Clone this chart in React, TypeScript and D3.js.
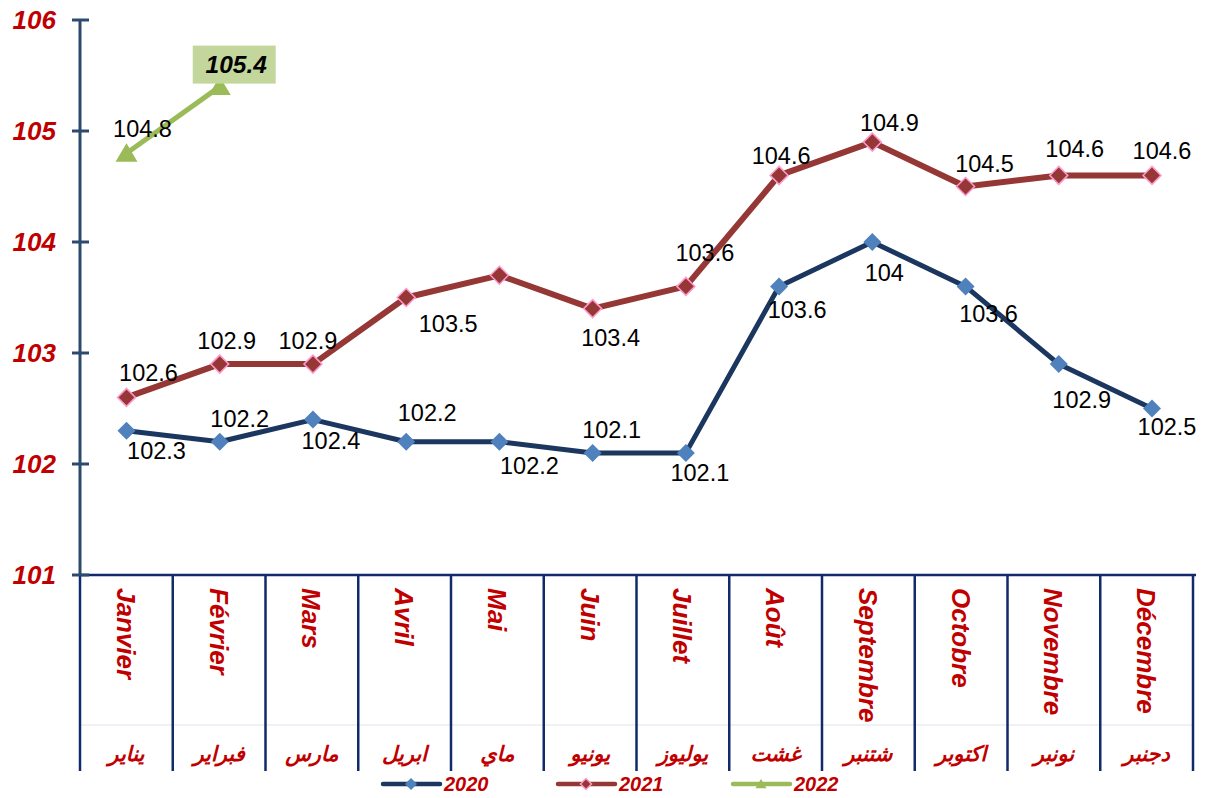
import React from "react";
import * as d3 from "d3";

const monthsFr = ["Janvier", "Février", "Mars", "Avril", "Mai", "Juin", "Juillet", "Août", "Septembre", "Octobre", "Novembre", "Décembre"];
const monthsAr = ["يناير", "فبراير", "مارس", "ابريل", "ماي", "يونيو", "يوليوز", "غشت", "شتنبر", "اكتوبر", "نونبر", "دجنبر"];
const values2020 = [102.3, 102.2, 102.4, 102.2, 102.2, 102.1, 102.1, 103.6, 104, 103.6, 102.9, 102.5];
const values2021 = [102.6, 102.9, 102.9, 103.5, 103.7, 103.4, 103.6, 104.6, 104.9, 104.5, 104.6, 104.6];
const values2022 = [104.8, 105.4];
const yTicks = [101, 102, 103, 104, 105, 106];
const seriesNames = ["2020", "2021", "2022"];

// label offsets (layout only)
const off2020: [number, number][] = [[30, 20], [20, -23], [18, 21], [21, -29], [30, 24], [19, -23], [14, 20], [18, 23], [12, 31], [23, 27], [23, 35], [15, 18]];
const off2021: ([number, number] | null)[] = [[22, -25], [7, -24], [-5, -24], [42, 26], null, [18, 29], [19, -34], [2, -20], [17, -20], [19, -23], [16, -27], [10, -25]];
const off2022: [number, number][] = [[16, -25], [14.5, -22]];

const RED = "#c00000";
const C2020 = "#1b365f";
const M2020 = "#4f81bd";
const C2021 = "#953735";
const P2021 = "#ff99cc";
const C2022 = "#9bbb59";
const AXIS = "#2c4a6e";
const NAVY = "#12296b";
const FONT = "Arial, 'Liberation Sans', 'DejaVu Sans', sans-serif";

export default function App() {
  const W = 1208, H = 798;
  const y = d3.scaleLinear().domain([101, 106]).range([575, 20]);
  const xp = d3.scalePoint<string>().domain(monthsFr).range([126.5, 1152]);
  const xb = d3.scaleBand<string>().domain(monthsFr).range([80, 1193]).padding(0);

  const line = d3.line<number>().x((_, i) => xp(monthsFr[i])!).y((d) => y(d));

  const diamond = (cx: number, cy: number, r: number) => `M${cx},${cy - r}L${cx + r},${cy}L${cx},${cy + r}L${cx - r},${cy}Z`;
  const tri = (cx: number, cy: number, r: number) => `M${cx},${cy - r}L${cx + r * 1.1},${cy + r * 0.85}L${cx - r * 1.1},${cy + r * 0.85}Z`;

  const dividers = monthsFr.map((m) => xb(m)!).concat([xb.range()[1]]);

  const legendItems = [
    { name: seriesNames[0], x: 383, color: C2020, kind: "d20" },
    { name: seriesNames[1], x: 558, color: C2021, kind: "d21" },
    { name: seriesNames[2], x: 733, color: C2022, kind: "t22" },
  ];

  return (
    <svg width={W} height={H} style={{ position: "absolute", left: 0, top: 0, background: "#fff" }} fontFamily={FONT}>
      {/* category area */}
      <line x1={80} x2={1193} y1={725} y2={725} stroke="#dde3ec" strokeWidth={1} />
      {dividers.map((d, i) => (
        <line key={"dv" + i} x1={d} x2={d} y1={575} y2={771} stroke={NAVY} strokeWidth={2.5} />
      ))}
      <line x1={80} x2={1196} y1={575} y2={575} stroke={NAVY} strokeWidth={2.5} />

      {/* y axis */}
      <line x1={80} x2={80} y1={20} y2={576} stroke={AXIS} strokeWidth={3} />
      {yTicks.map((t) => (
        <g key={"t" + t}>
          <line x1={72} x2={89} y1={y(t)} y2={y(t)} stroke={AXIS} strokeWidth={3} />
          <text x={56} y={y(t)} dy="0.36em" textAnchor="end" fill={RED} fontSize={26} fontWeight="bold" fontStyle="italic">{t}</text>
        </g>
      ))}

      {/* month labels */}
      {monthsFr.map((m, i) => {
        const cx = xb(m)! + xb.bandwidth() / 2;
        return (
          <g key={"m" + i}>
            <text transform={`translate(${cx - 9.5},588) rotate(90)`} textAnchor="start" fill={RED} fontSize={26} fontWeight="bold" fontStyle="italic">{m}</text>
            <text x={cx} y={761} textAnchor="middle" fill={RED} fontSize={21} fontWeight="bold" fontStyle="italic" fontFamily="'DejaVu Sans', 'Noto Sans', sans-serif">{monthsAr[i]}</text>
          </g>
        );
      })}

      {/* series lines */}
      <path d={line(values2020)!} fill="none" stroke={C2020} strokeWidth={5} strokeLinejoin="round" />
      <path d={line(values2021)!} fill="none" stroke={C2021} strokeWidth={6} strokeLinejoin="round" />
      <path d={line(values2022)!} fill="none" stroke={C2022} strokeWidth={5} />

      {/* markers */}
      {values2020.map((v, i) => (
        <path key={"a" + i} d={diamond(xp(monthsFr[i])!, y(v), 9)} fill={M2020} />
      ))}
      {values2021.map((v, i) => (
        <path key={"b" + i} d={diamond(xp(monthsFr[i])!, y(v), 9)} fill={C2021} stroke={P2021} strokeWidth={1.5} />
      ))}
      {values2022.map((v, i) => (
        <path key={"c" + i} d={tri(xp(monthsFr[i])!, y(v), 10)} fill={C2022} />
      ))}

      {/* data labels */}
      {values2020.map((v, i) => (
        <text key={"la" + i} x={xp(monthsFr[i])! + off2020[i][0]} y={y(v) + off2020[i][1]} dy="0.36em" textAnchor="middle" fontSize={23.5} fill="#000">{v}</text>
      ))}
      {values2021.map((v, i) =>
        off2021[i] ? (
          <text key={"lb" + i} x={xp(monthsFr[i])! + off2021[i]![0]} y={y(v) + off2021[i]![1]} dy="0.36em" textAnchor="middle" fontSize={23.5} fill="#000">{v}</text>
        ) : null
      )}
      {values2022.map((v, i) => {
        const lx = xp(monthsFr[i])! + off2022[i][0];
        const ly = y(v) + off2022[i][1];
        if (i === values2022.length - 1) {
          return (
            <g key={"lc" + i}>
              <rect x={lx - 41.5} y={ly - 19} width={83} height={38} fill="#c3d69b" />
              <text x={lx + 2} y={ly} dy="0.36em" textAnchor="middle" fontSize={24.5} fontWeight="bold" fontStyle="italic" fill="#000">{v}</text>
            </g>
          );
        }
        return (
          <text key={"lc" + i} x={lx} y={ly} dy="0.36em" textAnchor="middle" fontSize={23.5} fill="#000">{v}</text>
        );
      })}

      {/* legend */}
      {legendItems.map((it) => (
        <g key={"lg" + it.name}>
          <line x1={it.x} x2={it.x + 57} y1={784} y2={784} stroke={it.color} strokeWidth={4.5} strokeLinecap="round" />
          {it.kind === "d20" && <path d={diamond(it.x + 28, 784, 6)} fill={M2020} />}
          {it.kind === "d21" && <path d={diamond(it.x + 28, 784, 5.5)} fill={C2021} stroke={P2021} strokeWidth={1.5} />}
          {it.kind === "t22" && <path d={tri(it.x + 28, 784, 5)} fill={C2022} />}
          <text x={it.x + 61} y={784} dy="0.36em" fill={RED} fontSize={20} fontWeight="bold" fontStyle="italic">{it.name}</text>
        </g>
      ))}
    </svg>
  );
}
